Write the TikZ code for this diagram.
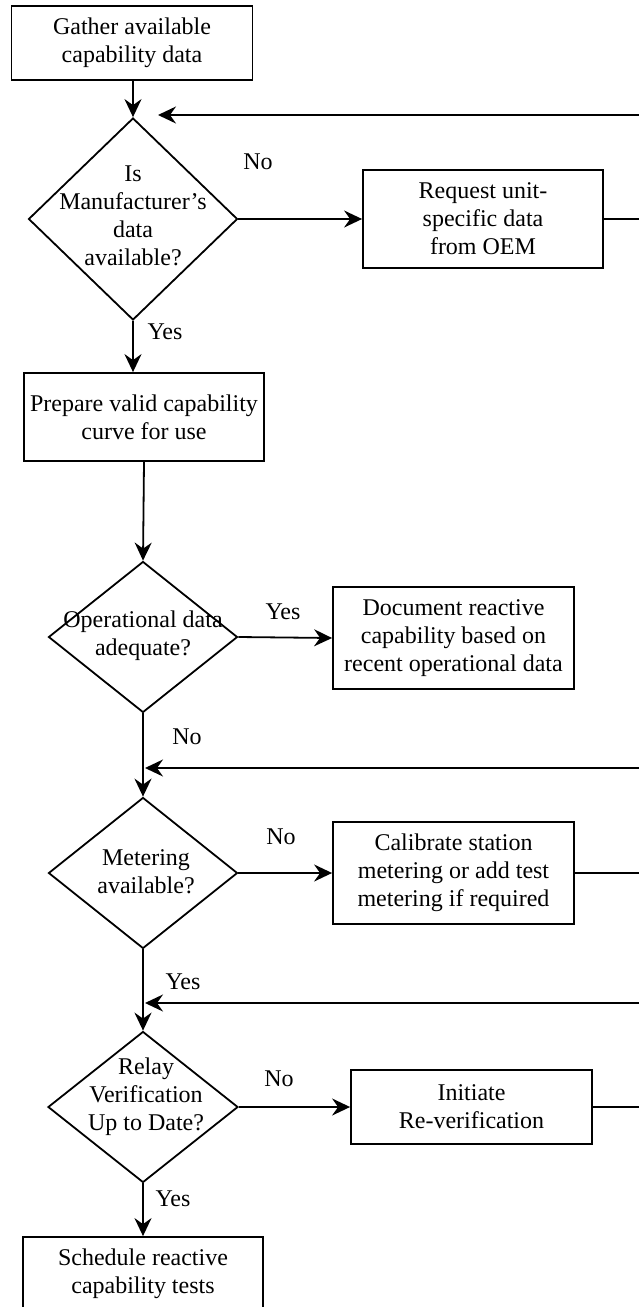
\documentclass[tikz,border=0pt]{standalone}
\usepackage{fontspec}
\setmainfont{Liberation Serif}
\usetikzlibrary{shapes.geometric,arrows.meta}

\begin{document}
\begin{tikzpicture}[x=1pt,y=-1pt,
  every node/.style={font=\fontsize{24}{28}\selectfont, align=center},
  box/.style={draw, line width=1.8pt, inner sep=0pt},
  dec/.style={draw, diamond, line width=1.8pt, inner sep=0pt},
  lbl/.style={inner sep=0pt},
  link/.style={line width=1.8pt},
  arr/.style={link, -{Stealth[length=18pt,width=17pt,inset=6pt]}}]
\useasboundingbox (0,0) rectangle (639,1307);

% process boxes
\node[box, minimum width=241pt, minimum height=74pt]  (b1) at (132,43)    {Gather available\\capability data};
\node[box, minimum width=240pt, minimum height=98pt]  (b2) at (483,219)   {Request unit-\\specific data\\from OEM};
\node[box, minimum width=240pt, minimum height=88pt]  (b3) at (144,417)   {Prepare valid capability\\curve for use};
\node[box, minimum width=241pt, minimum height=102pt] (b4) at (453.5,638) {Document reactive\\capability based on\\recent operational data};
\node[box, minimum width=241pt, minimum height=102pt] (b5) at (453.5,873) {Calibrate station\\metering or add test\\metering if required};
\node[box, minimum width=241pt, minimum height=74pt]  (b6) at (471.5,1107) {Initiate\\Re-verification};
\node[box, minimum width=240pt, minimum height=73pt]  (b7) at (143,1273.5) {Schedule reactive\\capability tests};

% decisions
\node[dec, minimum width=209pt, minimum height=202pt] (d1) at (133,219) {};
\node[lbl] (d1t) at (133,216) {Is\\Manufacturer's\\data\\available?};
\node[dec, minimum width=189pt, minimum height=151pt] (d2) at (143,637) {};
\node[lbl] (d2t) at (143,636) {Operational data\\adequate?};
\node[dec, minimum width=189pt, minimum height=151pt] (d3) at (143,873) {};
\node[lbl] (d3t) at (146,872) {Metering\\available?};
\node[dec, minimum width=190pt, minimum height=151pt] (d4) at (143,1107) {};
\node[lbl] (d4t) at (146,1097) {Relay\\Verification\\Up to Date?};

% branch labels
\node[lbl] (l1) at (258,162)  {No};
\node[lbl] (l2) at (165,332)  {Yes};
\node[lbl] (l3) at (283,612)  {Yes};
\node[lbl] (l4) at (187,737)  {No};
\node[lbl] (l5) at (281,837)  {No};
\node[lbl] (l6) at (183,982)  {Yes};
\node[lbl] (l7) at (279,1079) {No};
\node[lbl] (l8) at (173,1199) {Yes};

% loop-back corners (on the right edge) and entry points
\coordinate (e1) at (640,115);
\coordinate (r1) at (158,115);
\coordinate (e2) at (640,768);
\coordinate (r2) at (145,768);
\coordinate (e3) at (640,1003);
\coordinate (r3) at (145,1003);

% main flow
\draw[arr] (b1.south -| d1.north) -- (d1.north);
\draw[arr] (d1.east) -- (b2.west);
\draw[arr] (d1.south) -- (d1.south |- b3.north);
\draw[arr] (b3.south) -- (d2.north);
\draw[arr] (d2.east) -- (b4.west);
\draw[arr] (d2.south) -- (d3.north);
\draw[arr] (d3.east) -- (b5.west);
\draw[arr] (d3.south) -- (d4.north);
\draw[arr] (d4.east) -- (b6.west);
\draw[arr] (d4.south) -- (b7.north);

% loop-backs along the right edge
\draw[arr] (b2.east) -| (e1) -- (r1);
\draw[arr] (b5.east) -| (e2) -- (r2);
\draw[arr] (b6.east) -| (e3) -- (r3);
\end{tikzpicture}
\end{document}
